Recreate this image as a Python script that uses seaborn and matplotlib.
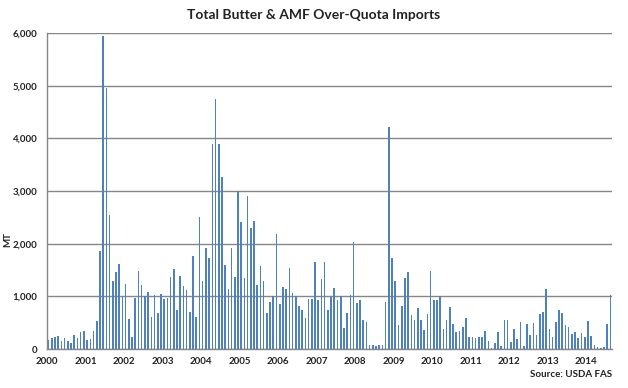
import pandas as pd
import seaborn as sns
import matplotlib
matplotlib.use("Agg")
from matplotlib import pyplot as plt

# Monthly over-quota imports (MT), Jan 2000 - Aug 2014
mt_2000 = [170, 210, 227, 246, 150, 210, 150, 115, 265, 210, 320, 340]
mt_2001 = [170, 190, 340, 530, 1860, 5940, 4960, 2540, 1290, 1460, 1610, 1000]
mt_2002 = [1230, 570, 227, 965, 1476, 1211, 1000, 1079, 606, 1022, 680, 1040]
mt_2003 = [946, 965, 1363, 1514, 738, 1382, 1192, 1117, 700, 1760, 606, 2498]
mt_2004 = [1287, 1912, 1722, 3899, 4751, 3899, 3274, 1590, 1136, 1912, 1363, 2991]
mt_2005 = [2404, 1344, 2896, 2290, 2423, 1211, 1571, 1287, 681, 890, 997, 2177]
mt_2006 = [852, 1174, 1136, 1533, 1060, 997, 814, 738, 587, 946, 946, 1647]
mt_2007 = [927, 1325, 1647, 738, 984, 1155, 927, 997, 397, 681, 1022, 2025]
mt_2008 = [871, 927, 549, 511, 76, 76, 57, 76, 76, 890, 4221, 1722]
mt_2009 = [1287, 454, 814, 1344, 1457, 644, 549, 776, 549, 360, 662, 1476]
mt_2010 = [927, 927, 997, 379, 549, 795, 473, 322, 341, 416, 587, 227]
mt_2011 = [227, 208, 227, 227, 341, 151, 19, 114, 322, 57, 549, 549]
mt_2012 = [132, 379, 189, 511, 57, 473, 265, 492, 265, 662, 700, 1136]
mt_2013 = [379, 227, 511, 738, 681, 454, 416, 284, 322, 208, 303, 227]
mt_2014 = [530, 246, 76, 38, 19, 38, 473, 1022]

values = (mt_2000 + mt_2001 + mt_2002 + mt_2003 + mt_2004 + mt_2005 + mt_2006
          + mt_2007 + mt_2008 + mt_2009 + mt_2010 + mt_2011 + mt_2012 + mt_2013 + mt_2014)
months = pd.date_range("2000-01-01", periods=len(values), freq="MS").strftime("%Y-%m")
year_labels = [str(y) for y in range(2000, 2015)]

df = pd.DataFrame({"month": months, "mt": values})

sns.set_style("white")
plt.rcParams['font.family'] = ['Lato', 'DejaVu Sans']

fig = plt.figure(figsize=(6.28, 3.88), dpi=100)
ax = fig.add_axes([0.0748, 0.1005, 0.8997, 0.8145])

sns.barplot(data=df, x="month", y="mt", color="#4F81BD", saturation=1,
            width=0.5, linewidth=0, ax=ax)

grid_col = "#868686"
ax.set_ylim(0, 6000)
ax.set_xlim(-0.5, len(values) - 0.5)
ax.set_yticks(range(0, 6001, 1000))
ax.set_yticklabels([f"{v:,}" for v in range(0, 6001, 1000)],
                   fontsize=7, fontweight="bold", color="#222222")
ax.yaxis.grid(True, color=grid_col, linewidth=1)
ax.set_axisbelow(True)

ax.set_xticks([-0.5 + 12 * k for k in range(len(year_labels))])
ax.set_xticklabels(year_labels, fontsize=7, fontweight="bold", color="#222222")
ax.tick_params(axis="x", length=3, width=1, color=grid_col, pad=3, direction="out")
ax.tick_params(axis="y", length=4, width=1, color=grid_col, pad=3, direction="out")

for side in ["top", "right"]:
    ax.spines[side].set_visible(False)
for side in ["left", "bottom"]:
    ax.spines[side].set_color(grid_col)
    ax.spines[side].set_linewidth(1)

ax.set_xlabel("")
ax.set_ylabel("MT", fontsize=7, fontweight="bold", color="#222222")
ax.yaxis.set_label_coords(-0.062, 0.345)

fig.text(0.5, 0.962, "Total Butter & AMF Over-Quota Imports", ha="center", va="center",
         fontsize=10, fontweight="bold", color="#222222")
fig.text(0.975, 0.022, "Source: USDA FAS", ha="right", va="bottom",
         fontsize=7, fontweight="bold", color="#222222")

plt.savefig("out.png", dpi=100)
